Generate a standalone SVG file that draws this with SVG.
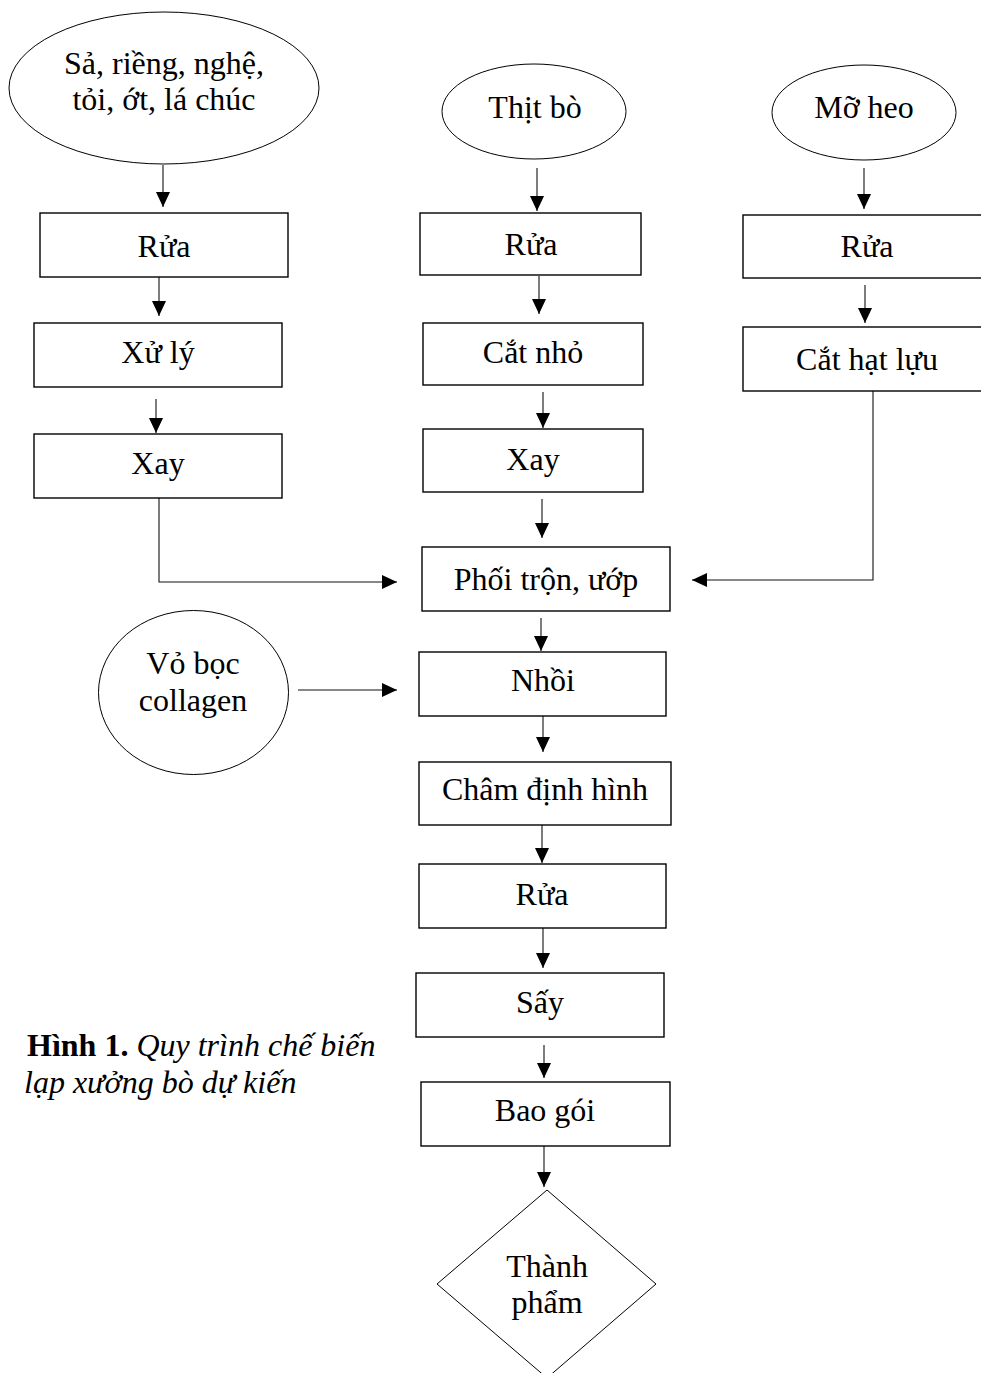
<svg xmlns="http://www.w3.org/2000/svg" width="981" height="1373" viewBox="0 0 981 1373">
<style>
  .box { fill: #fff; stroke: #000; stroke-width: 1.4; }
  .oval { fill: #fff; stroke: #000; stroke-width: 1; }
  .t { font-family: "Liberation Serif", "Times New Roman", serif; font-size: 32px; fill: #000; text-anchor: middle; }
  .cap { font-family: "Liberation Serif", "Times New Roman", serif; font-size: 32px; fill: #000; }
  .conn { fill: none; stroke: #111; stroke-width: 1.1; }
</style>
<defs>
  <marker id="arr" markerUnits="userSpaceOnUse" markerWidth="16" markerHeight="15" refX="15" refY="7" orient="auto">
    <path d="M0,0 L15,7 L0,14 z" fill="#000"/>
  </marker>
</defs>
<rect width="981" height="1373" fill="#fff"/>

<g id="connectors">
  <path class="conn" d="M163,165 V207" marker-end="url(#arr)"/>
  <path class="conn" d="M159,277 V316" marker-end="url(#arr)"/>
  <path class="conn" d="M156,399 V433" marker-end="url(#arr)"/>
  <path class="conn" d="M159,498 V582 H397" marker-end="url(#arr)"/>
  <path class="conn" d="M537,168 V211" marker-end="url(#arr)"/>
  <path class="conn" d="M539,276 V314" marker-end="url(#arr)"/>
  <path class="conn" d="M543,392 V428" marker-end="url(#arr)"/>
  <path class="conn" d="M542,499 V538" marker-end="url(#arr)"/>
  <path class="conn" d="M541,618 V651" marker-end="url(#arr)"/>
  <path class="conn" d="M543,716 V752" marker-end="url(#arr)"/>
  <path class="conn" d="M542,825 V863" marker-end="url(#arr)"/>
  <path class="conn" d="M543,928 V968" marker-end="url(#arr)"/>
  <path class="conn" d="M544,1045 V1078" marker-end="url(#arr)"/>
  <path class="conn" d="M544,1146 V1187" marker-end="url(#arr)"/>
  <path class="conn" d="M864,168 V209" marker-end="url(#arr)"/>
  <path class="conn" d="M865,285 V323" marker-end="url(#arr)"/>
  <path class="conn" d="M873,391 V580 H692" marker-end="url(#arr)"/>
  <path class="conn" d="M298,690 H397" marker-end="url(#arr)"/>
</g>

<g id="spices">
  <ellipse class="oval" cx="164" cy="88" rx="155" ry="76"/>
  <text class="t" x="164" y="74">Sả, riềng, nghệ,</text>
  <text class="t" x="164" y="110">tỏi, ớt, lá chúc</text>
</g>
<g id="beef">
  <ellipse class="oval" cx="534" cy="111.5" rx="92" ry="47.5"/>
  <text class="t" x="535" y="118">Thịt bò</text>
</g>
<g id="lard">
  <ellipse class="oval" cx="864" cy="112.5" rx="92" ry="47.5"/>
  <text class="t" x="864" y="118">Mỡ heo</text>
</g>

<g id="wash-left">
  <rect class="box" x="40" y="213" width="248" height="64"/>
  <text class="t" x="164" y="257">Rửa</text>
</g>
<g id="process-left">
  <rect class="box" x="34" y="323" width="248" height="64"/>
  <text class="t" x="158" y="363">Xử lý</text>
</g>
<g id="grind-left">
  <rect class="box" x="34" y="434" width="248" height="64"/>
  <text class="t" x="158" y="474">Xay</text>
</g>

<g id="wash-mid">
  <rect class="box" x="420" y="213" width="221" height="62"/>
  <text class="t" x="531" y="255">Rửa</text>
</g>
<g id="cut-mid">
  <rect class="box" x="423" y="323" width="220" height="62"/>
  <text class="t" x="533" y="363">Cắt nhỏ</text>
</g>
<g id="grind-mid">
  <rect class="box" x="423" y="429" width="220" height="63"/>
  <text class="t" x="533" y="470">Xay</text>
</g>

<g id="wash-right">
  <rect class="box" x="743" y="215" width="248" height="63"/>
  <text class="t" x="867" y="257">Rửa</text>
</g>
<g id="dice-right">
  <rect class="box" x="743" y="327" width="248" height="64"/>
  <text class="t" x="867" y="370">Cắt hạt lựu</text>
</g>

<g id="mix">
  <rect class="box" x="422" y="547" width="248" height="64"/>
  <text class="t" x="546" y="590">Phối trộn, ướp</text>
</g>
<g id="casing">
  <ellipse class="oval" cx="193.5" cy="692.5" rx="95" ry="82"/>
  <text class="t" x="193" y="674">Vỏ bọc</text>
  <text class="t" x="193" y="711">collagen</text>
</g>
<g id="stuff">
  <rect class="box" x="419" y="652" width="247" height="64"/>
  <text class="t" x="543" y="691">Nhồi</text>
</g>
<g id="prick">
  <rect class="box" x="419" y="762" width="252" height="63"/>
  <text class="t" x="545" y="800">Châm định hình</text>
</g>
<g id="wash-bottom">
  <rect class="box" x="419" y="864" width="247" height="64"/>
  <text class="t" x="542" y="905">Rửa</text>
</g>
<g id="dry">
  <rect class="box" x="416" y="973" width="248" height="64"/>
  <text class="t" x="540" y="1013">Sấy</text>
</g>
<g id="pack">
  <rect class="box" x="421" y="1082" width="249" height="64"/>
  <text class="t" x="545" y="1121">Bao gói</text>
</g>
<g id="product">
  <polygon class="oval" points="547,1190 656,1284 547,1378 437,1284"/>
  <text class="t" x="547" y="1277">Thành</text>
  <text class="t" x="547" y="1313">phẩm</text>
</g>

<g id="caption">
  <text class="cap" x="27" y="1056"><tspan font-weight="bold">Hình 1.</tspan><tspan font-style="italic"> Quy trình chế biến</tspan></text>
  <text class="cap" x="24" y="1093" font-style="italic">lạp xưởng bò dự kiến</text>
</g>
</svg>
